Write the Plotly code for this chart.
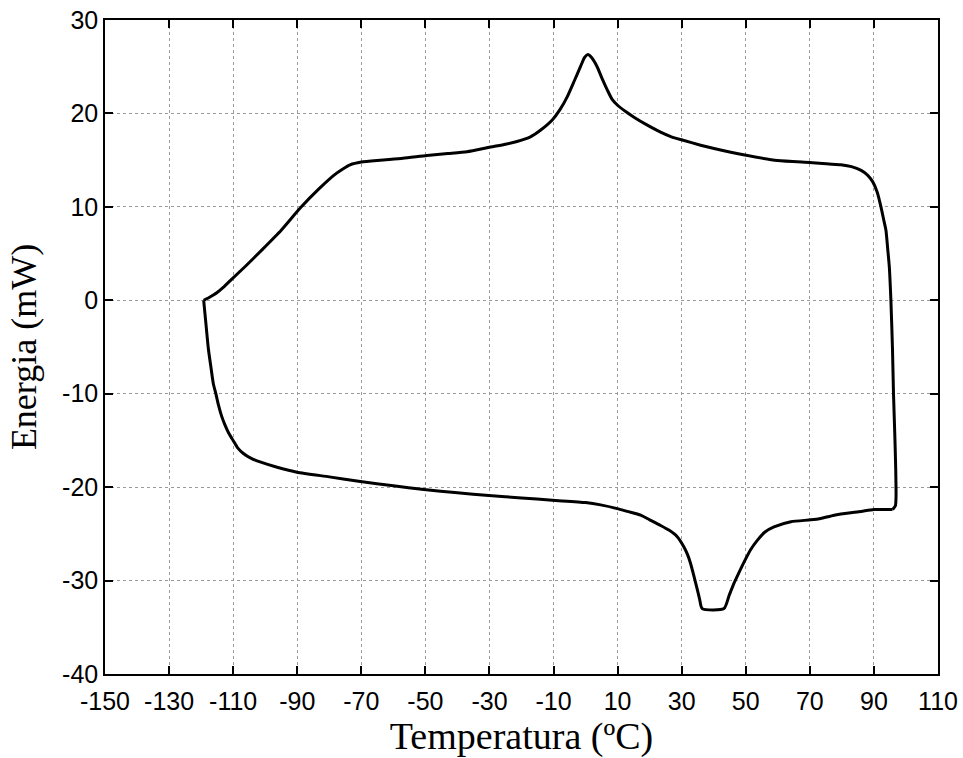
import plotly.graph_objects as go

# Heating branch: from the cold end across the top of the loop and down the hot side
temp_up = [-119.2, -117.5, -115.1, -113.0, -110.9, -106.0, -101.0, -95.0, -89.0, -83.0,
           -78.5, -76.0, -73.5, -70.0, -64.1, -57.0, -49.5, -43.0, -37.0, -29.7,
           -25.0, -21.4, -17.2, -14.1, -10.4, -8.0, -5.7, -3.5, -1.6, -0.3,
           0.7, 1.8, 3.6, 5.2, 6.8, 8.3, 9.9, 12.5, 15.1, 19.0,
           23.4, 26.8, 30.2, 35.9, 40.1, 49.7, 59.9, 69.9, 74.0, 79.7,
           83.0, 86.0, 88.0, 89.6, 91.0, 92.2, 93.0, 93.75, 94.3, 94.8,
           95.3, 95.8, 96.1, 96.5, 96.8, 96.9, 96.7, 95.8]
energy_up = [0.0, 0.3, 0.8, 1.4, 2.1, 3.7, 5.4, 7.5, 9.9, 12.0,
             13.4, 14.0, 14.5, 14.8, 15.0, 15.2, 15.5, 15.7, 15.9, 16.4,
             16.7, 17.0, 17.5, 18.2, 19.3, 20.4, 21.8, 23.5, 25.0, 26.0,
             26.3, 26.0, 25.0, 23.7, 22.5, 21.5, 20.9, 20.2, 19.6, 18.8,
             18.0, 17.5, 17.15, 16.6, 16.25, 15.55, 14.95, 14.75, 14.65, 14.5,
             14.3, 13.9, 13.4, 12.7, 11.6, 10.0, 8.7, 7.5, 5.5, 3.6,
             0.0, -5.3, -9.9, -14.2, -18.0, -21.0, -22.0, -22.4]

# Cooling branch: from the hot end along the bottom back to the cold end
temp_down = [95.8, 90.0, 86.0, 77.6, 73.4, 70.3, 64.1, 58.8, 56.0, 53.6,
             51.5, 49.5, 47.8, 46.3, 44.8, 43.2, 36.4, 35.6, 34.9, 33.8,
             32.8, 31.8, 30.7, 28.6, 26.0, 23.4, 20.0, 17.2, 13.0, 9.9,
             4.7, 0.0, -10.4, -20.0, -30.2, -40.0, -50.5, -60.0, -70.3, -80.0,
             -90.1, -96.0, -101.6, -104.5, -106.8, -108.6, -110.0, -111.4, -112.6, -113.6,
             -114.6, -115.4, -116.2, -117.0, -117.7, -118.5, -119.2]
energy_down = [-22.4, -22.4, -22.6, -23.0, -23.35, -23.5, -23.7, -24.25, -24.8, -25.7,
               -26.7, -28.0, -29.2, -30.3, -31.6, -33.0, -33.0, -32.0, -31.0, -29.5,
               -28.2, -27.2, -26.4, -25.3, -24.6, -24.1, -23.5, -23.0, -22.6, -22.3,
               -21.9, -21.65, -21.4, -21.15, -20.9, -20.6, -20.25, -19.85, -19.4, -18.9,
               -18.4, -17.9, -17.3, -16.9, -16.4, -15.8, -15.0, -14.2, -13.3, -12.4,
               -11.2, -10.0, -8.9, -7.0, -5.3, -2.5, 0.0]

# Axis ticks, written with plain hyphens
x_ticks = [-150, -130, -110, -90, -70, -50, -30, -10, 10, 30, 50, 70, 90, 110]
y_ticks = [-40, -30, -20, -10, 0, 10, 20, 30]
x_tick_labels = [str(v) for v in x_ticks]
y_tick_labels = [str(v) for v in y_ticks]

line_style = dict(color="black", width=3, shape="spline", smoothing=0.6)

fig = go.Figure()
fig.add_trace(go.Scatter(x=temp_up, y=energy_up, mode="lines", line=line_style,
                         showlegend=False, hoverinfo="x+y"))
fig.add_trace(go.Scatter(x=temp_down, y=energy_down, mode="lines", line=line_style,
                         showlegend=False, hoverinfo="x+y"))

tick_font = dict(family="Liberation Sans, Arial, sans-serif", size=25, color="black")

axis_common = dict(
    showline=True, linecolor="black", linewidth=1.5, mirror="ticks",
    ticks="inside", ticklen=8, tickcolor="black", tickwidth=1.5,
    showgrid=True, gridcolor="#9a9a9a", gridwidth=1, griddash="dot",
    zeroline=False, tickfont=tick_font, tickmode="array",
)

fig.update_xaxes(
    range=[-150, 110], tickvals=x_ticks, ticktext=x_tick_labels,
    title=dict(text="Temperatura (ºC)", standoff=4,
               font=dict(family="Liberation Serif, Times New Roman, serif", size=38, color="black")),
    ticklabelstandoff=4,
    **axis_common,
)
fig.update_yaxes(
    range=[-40, 30], tickvals=y_ticks, ticktext=y_tick_labels,
    title=dict(text="Energia (mW)", standoff=15,
               font=dict(family="Liberation Serif, Times New Roman, serif", size=36, color="black")),
    ticklabelstandoff=0,
    **axis_common,
)

fig.update_layout(
    width=963, height=758,
    margin=dict(l=105, r=25, t=20, b=84, autoexpand=False),
    plot_bgcolor="white", paper_bgcolor="white",
)

fig.write_html("out.html")
